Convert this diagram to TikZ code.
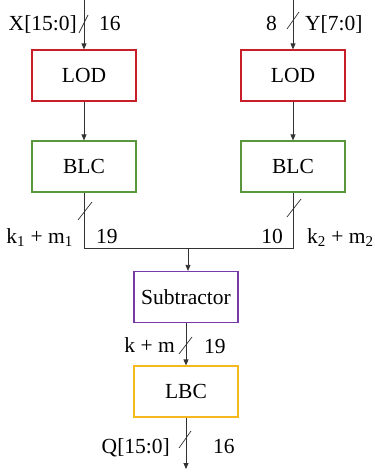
\documentclass[tikz,border=0pt]{standalone}
\usepackage{fontspec}
\setmainfont{Liberation Serif}
\usetikzlibrary{arrows.meta}
\definecolor{lodred}{RGB}{200,30,40}
\definecolor{blcgreen}{RGB}{90,150,60}
\definecolor{subpurple}{RGB}{120,60,170}
\definecolor{lbcgold}{RGB}{245,185,30}
\definecolor{wire}{RGB}{50,50,50}
\tikzset{
  blk/.style={draw=#1, line width=1.2pt, minimum width=104pt, minimum height=51pt, inner sep=0pt, font=\fontsize{21.5}{25}\selectfont},
  wireline/.style={draw=wire, line width=0.8pt},
  arr/.style={wireline, -{Triangle[length=6pt,width=5pt]}},
  lbl/.style={inner sep=0pt, font=\fontsize{21.5}{25}\selectfont},
  slash/.style={draw=wire, line width=0.7pt}
}
\begin{document}
\begin{tikzpicture}[x=1pt,y=-1pt]
\useasboundingbox (0,0) rectangle (375,475);
% blocks
\node[blk=lodred] (lod1) at (84,75.5) {LOD};
\node[blk=lodred] (lod2) at (293,75.5) {LOD};
\node[blk=blcgreen] (blc1) at (84,166.5) {BLC};
\node[blk=blcgreen] (blc2) at (293,166.5) {BLC};
\node[blk=subpurple] (sub) at (186,297) {Subtractor};
\node[blk=lbcgold] (lbc) at (186,391.5) {LBC};
% coordinates
\coordinate (in1) at (84,0);
\coordinate (in2) at (293,0);
\coordinate (jl) at (84,248);
\coordinate (jr) at (293,248);
\coordinate (jm) at (188,248);
\coordinate (out) at (186,469);
% wires
\draw[arr] (in1) -- (lod1.north);
\draw[arr] (in2) -- (lod2.north);
\draw[arr] (lod1.south) -- (blc1.north);
\draw[arr] (lod2.south) -- (blc2.north);
\draw[wireline] (blc1.south) -- (jl) -- (jr) -- (blc2.south);
\draw[arr] (jm) -- (jm |- sub.north);
\draw[arr] (sub.south) -- (lbc.north);
\draw[arr] (lbc.south) -- (out);
% slashes
\draw[slash] (79,33) -- (88,15);
\draw[slash] (287,29) -- (299,12);
\draw[slash] (78,220) -- (92,202);
\draw[slash] (287,217) -- (301,199);
\draw[slash] (179,354) -- (192,337);
\draw[slash] (179,448) -- (191,431);
% labels
\node[lbl, anchor=base east] (lx) at (77,30) {X[15:0]};
\node[lbl, anchor=base west] (lx16) at (99,30) {16};
\node[lbl, anchor=base east] (ly8) at (277,30) {8};
\node[lbl, anchor=base west] (ly) at (305,30) {Y[7:0]};
\node[lbl, anchor=base east] (lk1) at (73,243) {k\textsubscript{1} + m\textsubscript{1}};
\node[lbl, anchor=base west] (l19a) at (96,243) {19};
\node[lbl, anchor=base east] (l10) at (283,243) {10};
\node[lbl, anchor=base west] (lk2) at (307,243) {k\textsubscript{2} + m\textsubscript{2}};
\node[lbl, anchor=base east] (lkm) at (175,352) {k + m};
\node[lbl, anchor=base west] (l19b) at (204,353) {19};
\node[lbl, anchor=base east] (lq) at (170,453) {Q[15:0]};
\node[lbl, anchor=base west] (lq16) at (213,453) {16};
\end{tikzpicture}
\end{document}
